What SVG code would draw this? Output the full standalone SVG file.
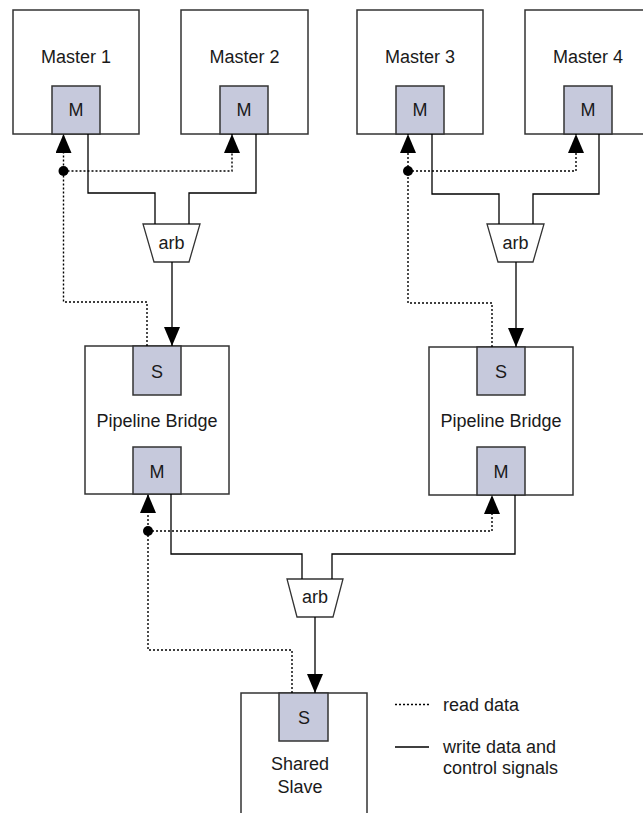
<svg xmlns="http://www.w3.org/2000/svg" width="643" height="813" viewBox="0 0 643 813">
<defs>
<marker id="ah" markerUnits="userSpaceOnUse" markerWidth="20" markerHeight="17" refX="19" refY="8" orient="auto">
<path d="M0,0 L19,8 L0,16 z" fill="#000"/>
</marker>
<style>
.box{fill:#fff;stroke:#333;stroke-width:1.5}
.port{fill:#c6c9dc;stroke:#333;stroke-width:1.5}
.arb{fill:#fff;stroke:#333;stroke-width:1.3}
.w{fill:none;stroke:#000;stroke-width:1.3}
.r{fill:none;stroke:#000;stroke-width:1.4;stroke-dasharray:2 2}
.t{font-family:"Liberation Sans",Arial,sans-serif;font-size:18px;fill:#1a1a1a;text-anchor:middle}
.l{font-family:"Liberation Sans",Arial,sans-serif;font-size:18px;fill:#1a1a1a}
</style>
</defs>
<rect width="643" height="813" fill="#fff"/>

<g id="master1">
<rect class="box" x="13" y="10" width="126" height="124"/>
<text class="t" x="76" y="62.5">Master 1</text>
<rect class="port" x="52" y="86" width="48" height="48"/>
<text class="t" x="76" y="116">M</text>
</g>
<g id="master2">
<rect class="box" x="181" y="10" width="127" height="124"/>
<text class="t" x="244.5" y="62.5">Master 2</text>
<rect class="port" x="220" y="86" width="48" height="48"/>
<text class="t" x="244" y="116">M</text>
</g>
<g id="master3">
<rect class="box" x="357" y="10" width="126" height="124"/>
<text class="t" x="420" y="62.5">Master 3</text>
<rect class="port" x="396" y="86" width="48" height="48"/>
<text class="t" x="420" y="116">M</text>
</g>
<g id="master4">
<rect class="box" x="525" y="10" width="126" height="124"/>
<text class="t" x="588" y="62.5">Master 4</text>
<rect class="port" x="564" y="86" width="48" height="48"/>
<text class="t" x="588" y="116">M</text>
</g>

<g id="arb1">
<path class="arb" d="M143,224 L200,224 L189,262 L154,262 Z"/>
<text class="t" x="171.5" y="249">arb</text>
</g>
<g id="arb2">
<path class="arb" d="M487,224 L544,224 L533,262 L498,262 Z"/>
<text class="t" x="515.5" y="249">arb</text>
</g>
<g id="arb3">
<path class="arb" d="M287,579 L343,579 L333,617 L297,617 Z"/>
<text class="t" x="315" y="603">arb</text>
</g>

<g id="bridge1">
<rect class="box" x="85" y="346" width="144" height="148"/>
<rect class="port" x="133" y="346" width="48" height="49"/>
<text class="t" x="157" y="378">S</text>
<text class="t" x="157" y="427">Pipeline Bridge</text>
<rect class="port" x="133" y="447" width="48" height="47"/>
<text class="t" x="157" y="478">M</text>
</g>
<g id="bridge2">
<rect class="box" x="429" y="347" width="144" height="148"/>
<rect class="port" x="477" y="347" width="48" height="48"/>
<text class="t" x="501" y="378">S</text>
<text class="t" x="501" y="427">Pipeline Bridge</text>
<rect class="port" x="477" y="447" width="48" height="48"/>
<text class="t" x="501" y="478">M</text>
</g>

<g id="slave">
<rect class="box" x="241" y="693" width="126" height="140"/>
<rect class="port" x="279" y="693" width="49" height="48"/>
<text class="t" x="304" y="724">S</text>
<text class="t" x="300" y="770">Shared</text>
<text class="t" x="300" y="793">Slave</text>
</g>

<g id="connectors">
<polyline class="w" points="88,134 88,193 155,193 155,224"/>
<polyline class="w" points="256,134 256,193 189,193 189,224"/>
<polyline class="w" points="432,134 432,194 499,194 499,224"/>
<polyline class="w" points="599,134 599,194 533,194 533,224"/>
<line class="w" x1="172" y1="262" x2="172" y2="346" marker-end="url(#ah)"/>
<line class="w" x1="516" y1="262" x2="516" y2="347" marker-end="url(#ah)"/>
<polyline class="w" points="171,494 171,554 302,554 302,579"/>
<polyline class="w" points="515,495 515,554 332,554 332,579"/>
<line class="w" x1="315" y1="617" x2="315" y2="693" marker-end="url(#ah)"/>

<polyline class="r" points="147,346 147,302 63.5,302 63.5,134" marker-end="url(#ah)"/>
<polyline class="r" points="63.5,171 232,171 232,134" marker-end="url(#ah)"/>
<polyline class="r" points="492,347 492,303 408,303 408,134" marker-end="url(#ah)"/>
<polyline class="r" points="408,171 576,171 576,134" marker-end="url(#ah)"/>
<polyline class="r" points="292,693 292,650 148,650 148,494" marker-end="url(#ah)"/>
<polyline class="r" points="148,531 492,531 492,495" marker-end="url(#ah)"/>
<circle cx="63.5" cy="171" r="5" fill="#000"/>
<circle cx="408" cy="171" r="5" fill="#000"/>
<circle cx="148" cy="531" r="5" fill="#000"/>
</g>

<g id="legend">
<line class="r" x1="395" y1="704.5" x2="429" y2="704.5"/>
<text class="l" x="443" y="710.5">read data</text>
<line class="w" x1="395" y1="747" x2="429" y2="747"/>
<text class="l" x="443" y="753">write data and</text>
<text class="l" x="443" y="774">control signals</text>
</g>
</svg>
